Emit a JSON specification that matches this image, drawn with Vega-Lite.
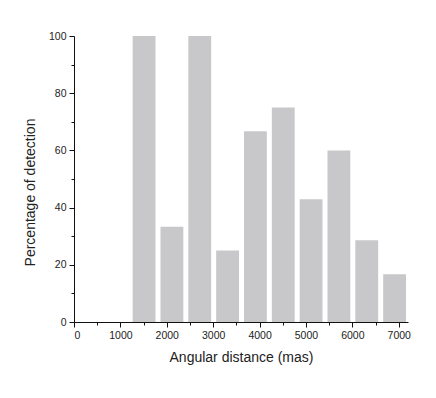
{
  "$schema": "https://vega.github.io/schema/vega-lite/v6.json",
  "width": 334,
  "height": 286,
  "autosize": {"type": "none"},
  "padding": {"left": 74, "top": 36, "right": 28, "bottom": 76},
  "background": "white",
  "config": {"view": {"stroke": null}, "font": "Liberation Sans"},
  "data": {"values": [
    {"start": 1200, "end": 1800, "pct": 100},
    {"start": 1800, "end": 2400, "pct": 33.3},
    {"start": 2400, "end": 3000, "pct": 100},
    {"start": 3000, "end": 3600, "pct": 25},
    {"start": 3600, "end": 4200, "pct": 66.7},
    {"start": 4200, "end": 4800, "pct": 75},
    {"start": 4800, "end": 5400, "pct": 42.9},
    {"start": 5400, "end": 6000, "pct": 60},
    {"start": 6000, "end": 6600, "pct": 28.6},
    {"start": 6600, "end": 7200, "pct": 16.7}
  ]},
  "mark": {"type": "bar", "color": "#c8c8ca", "binSpacing": 5},
  "encoding": {
    "x": {
      "field": "start", "type": "quantitative", "bin": "binned",
      "scale": {"domain": [0, 7200], "nice": false, "zero": false},
      "axis": {
        "title": "Angular distance (mas)",
        "titleFontSize": 14, "titleFontWeight": "normal", "titleColor": "#222", "titlePadding": 10,
        "values": [0,500,1000,1500,2000,2500,3000,3500,4000,4500,5000,5500,6000,6500,7000],
        "labelExpr": "datum.value % 1000 === 0 ? datum.label : ''",
        "labelOverlap": false, "labelFontSize": 10.5, "labelColor": "#222", "labelPadding": 3,
        "format": "d",
        "grid": false, "domainColor": "#111", "tickColor": "#111",
        "tickSize": {"condition": {"test": "datum.value % 1000 === 0", "value": 5}, "value": 3}
      }
    },
    "x2": {"field": "end"},
    "y": {
      "field": "pct", "type": "quantitative",
      "scale": {"domain": [0, 100], "nice": false},
      "axis": {
        "title": "Percentage of detection",
        "titleFontSize": 14, "titleFontWeight": "normal", "titleColor": "#222", "titlePadding": 11,
        "titleY": 156,
        "values": [0,10,20,30,40,50,60,70,80,90,100],
        "labelExpr": "datum.value % 20 === 0 ? datum.label : ''",
        "labelOverlap": false, "labelFontSize": 10.5, "labelColor": "#222", "labelPadding": 3,
        "grid": false, "domainColor": "#111", "tickColor": "#111",
        "tickSize": {"condition": {"test": "datum.value % 20 === 0", "value": 5}, "value": 3}
      }
    }
  }
}
